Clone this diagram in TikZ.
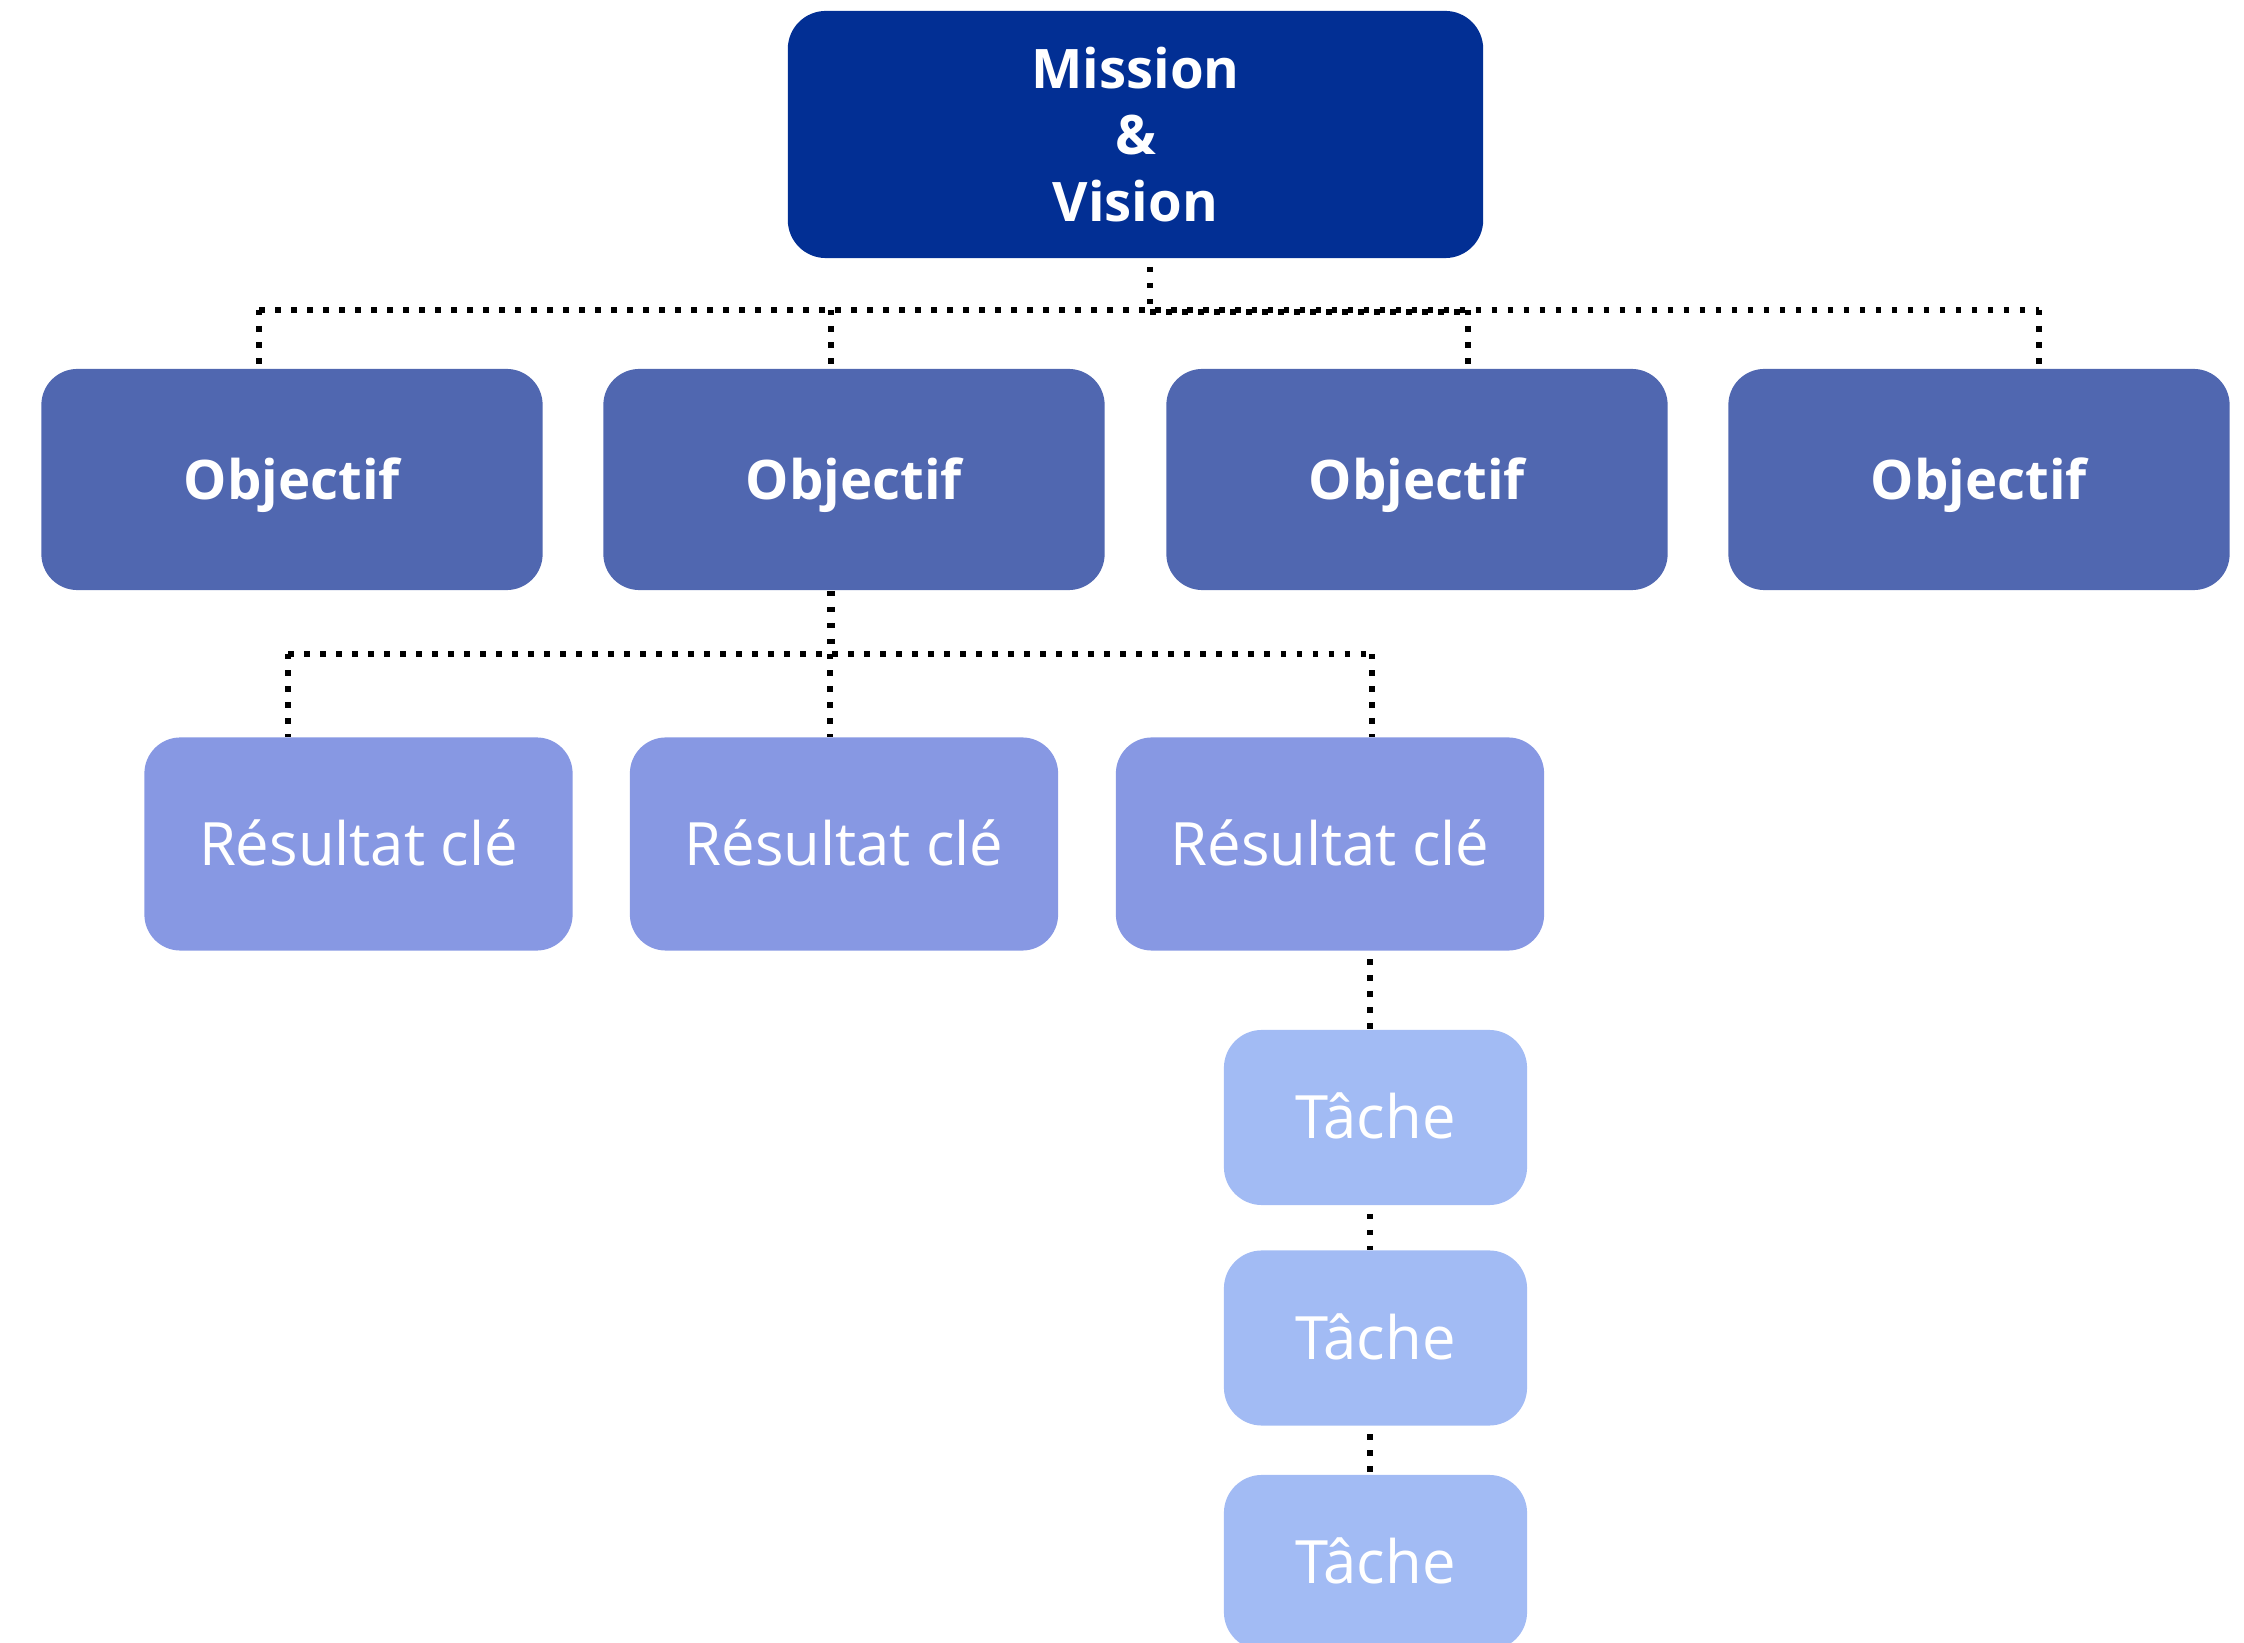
\documentclass[tikz,border=0pt]{standalone}
\usepackage{fontspec}
\setmainfont{Open Sans}
\usetikzlibrary{calc}

\definecolor{missionblue}{HTML}{022F94}
\definecolor{objblue}{HTML}{5067B0}
\definecolor{resblue}{HTML}{8798E3}
\definecolor{taskblue}{HTML}{A2BBF4}

\tikzset{
  card/.style={rectangle, inner sep=0pt, text=white, align=center, text depth=0pt},
  missionbox/.style={card, fill=missionblue, minimum width=6.95cm, minimum height=2.47cm,
    rounded corners=0.38cm, font=\fontsize{15.5}{18.9}\selectfont\bfseries},
  objbox/.style={card, text height=11.1pt, fill=objblue, minimum width=5.01cm, minimum height=2.21cm,
    rounded corners=0.36cm, font=\fontsize{15.5}{18.9}\selectfont\bfseries},
  resbox/.style={card, text height=12.1pt, fill=resblue, minimum width=4.28cm, minimum height=2.13cm,
    rounded corners=0.36cm, font=\fontsize{17}{20}\selectfont},
  taskbox/.style={card, text height=12.1pt, fill=taskblue, minimum width=3.03cm, minimum height=1.75cm,
    rounded corners=0.38cm, font=\fontsize{17}{20}\selectfont},
  link/.style={draw=black, line width=0.055cm, dash pattern=on 0.055cm off 0.105cm},
  gapped/.style={shorten <=0.08cm}
}

\begin{document}
\begin{tikzpicture}[x=0.01cm, y=-0.01cm]
\useasboundingbox (0,0) rectangle (2244,1643);

% top level
\node[missionbox, text depth=] (m) at (1135.5,134.5) {Mission\\\&\\Vision};

% objectives
\node[objbox] (o1) at (292,479.5)  {Objectif};
\node[objbox] (o2) at (854,479.5)  {Objectif};
\node[objbox] (o3) at (1417,479.5) {Objectif};
\node[objbox] (o4) at (1979,479.5) {Objectif};

% key results
\node[resbox] (r1) at (358.5,844) {Résultat clé};
\node[resbox] (r2) at (844,844)   {Résultat clé};
\node[resbox] (r3) at (1330,844)  {Résultat clé};

% tasks
\node[taskbox] (t1) at (1375.5,1117.5) {Tâche};
\node[taskbox] (t2) at (1375.5,1338)   {Tâche};
\node[taskbox] (t3) at (1375.5,1562.5) {Tâche};

% bus from the mission to the objectives
\coordinate (mtap) at (1150,310);
\coordinate (b1) at (259,310);
\coordinate (b2) at (831,310);
\coordinate (b3) at (1468,310);
\coordinate (b4) at (2039,310);
\draw[link, gapped] (m.south -| mtap) -- (mtap);
\draw[link] (b1) -- (b4);
\draw[link] ($(mtap)+(0,2)$) -- ($(b3)+(0,2)$);
\draw[link] (b1) -- (b1 |- o1.north);
\draw[link] (b2) -- (b2 |- o2.north);
\draw[link] (b3) -- (b3 |- o3.north);
\draw[link] (b4) -- (b4 |- o4.north);

% bus from the second objective to its key results
\coordinate (otap) at (830,654);
\coordinate (c1) at (288,654);
\coordinate (c3) at (1372,654);
\draw[link] (o2.south -| otap) -- (otap);
\draw[link] ($(o2.south -| otap)+(2,0)$) -- ($(otap)+(2,0)$);
\draw[link] (c1) -- (c3);
\draw[link] (c1) -- (c1 |- r1.north);
\draw[link] (otap) -- (otap |- r2.north);
\draw[link] (c3) -- (c3 |- r3.north);

% chain of tasks under the third key result
\coordinate (tx) at (1370,0);
\draw[link, gapped] (r3.south -| tx) -- (t1.north -| tx);
\draw[link, gapped] (t1.south -| tx) -- (t2.north -| tx);
\draw[link, gapped] (t2.south -| tx) -- (t3.north -| tx);
\end{tikzpicture}
\end{document}
